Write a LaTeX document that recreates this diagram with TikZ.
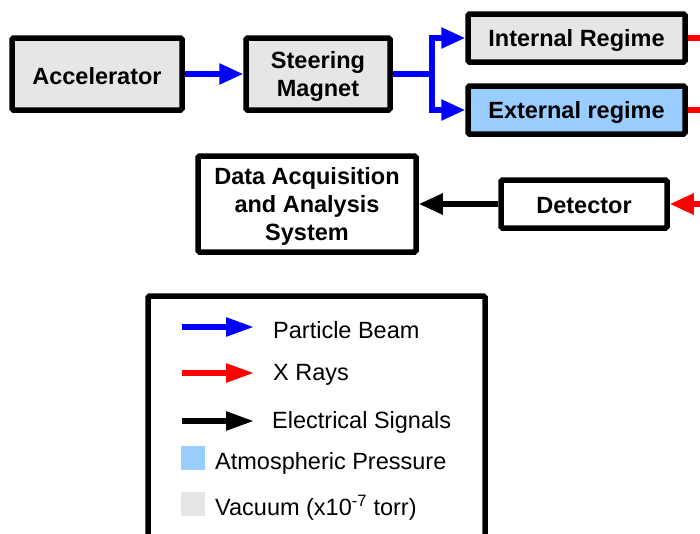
\documentclass[tikz,border=0pt]{standalone}
\usepackage{fontspec}
\setmainfont{Liberation Sans}
\usetikzlibrary{arrows.meta}
\definecolor{vac}{HTML}{E6E6E6}
\definecolor{atm}{HTML}{99CCFF}
\definecolor{beam}{HTML}{0000FF}
\definecolor{xray}{HTML}{FF0000}
\tikzset{
  blk/.style={draw=black, line width=5.5pt, rounded corners=1.5pt, inner sep=0pt, font=\bfseries\fontsize{23.5}{28}\selectfont, align=center},
  vacbox/.style={blk, fill=vac},
  atmbox/.style={blk, fill=atm},
  plainbox/.style={blk, fill=white},
  beamline/.style={draw=beam, line width=5.5pt, -{Triangle[length=24pt,width=20pt]}},
  beamseg/.style={draw=beam, line width=5.5pt, rounded corners=3pt},
  xrayline/.style={draw=xray, line width=5.5pt, -{Triangle[length=24pt,width=20pt]}},
  xrayseg/.style={draw=xray, line width=5.5pt},
  sigline/.style={draw=black, line width=5.5pt, -{Triangle[length=24pt,width=20pt]}},
  legtext/.style={anchor=west, font=\fontsize{23.5}{28}\selectfont, inner sep=0pt},
  legarrow/.style={line width=5.5pt, -{Triangle[length=28pt,width=18pt]}},
  boxtext/.style={font=\bfseries\fontsize{23.5}{28}\selectfont, align=center, inner sep=0pt},
}
\begin{document}
\begin{tikzpicture}[x=1pt,y=-1pt]
\useasboundingbox (0,0) rectangle (700,533);
% main boxes
\node[vacbox, minimum width=170pt, minimum height=72pt] (acc) at (97,74) {};
\node[vacbox, minimum width=144pt, minimum height=72pt] (mag) at (318,74) {};
\node[vacbox, minimum width=217pt, minimum height=48pt] (int) at (576.5,38) {};
\node[atmbox, minimum width=217pt, minimum height=48pt] (ext) at (576.5,110) {};
\node[plainbox, minimum width=218pt, minimum height=96pt] (daq) at (307,204) {};
\node[plainbox, minimum width=166pt, minimum height=48pt] (det) at (584,204) {};
\node[boxtext] (acct) at ([yshift=-2pt]acc.center) {Accelerator};
\node[boxtext] (magt) at ([yshift=-2pt]mag.center) {Steering\\Magnet};
\node[boxtext] (intt) at ([yshift=-2pt]int.center) {Internal Regime};
\node[boxtext] (extt) at ([yshift=-2pt]ext.center) {External regime};
\node[boxtext] (daqt) at ([yshift=-2pt]daq.center) {Data Acquisition\\and Analysis\\System};
\node[boxtext] (dett) at ([yshift=-2pt]det.center) {Detector};
% coordinates
\coordinate (br) at (432,74);
\coordinate (e1) at (702,38);
\coordinate (e2) at (702,110);
\coordinate (e3) at (702,204);
% beam
\draw[beamline] (acc.east) -- (mag.west);
\draw[beamseg] (mag.east) -- (br);
\draw[beamseg] (int.west -| br) -- (ext.west -| br);
\draw[beamline] ([xshift=-2.75pt]int.west -| br) -- (int.west);
\draw[beamline] ([xshift=-2.75pt]ext.west -| br) -- (ext.west);
% x rays
\draw[xrayseg] (int.east) -- (e1);
\draw[xrayseg] (ext.east) -- (e2);
\draw[xrayline] (e3) -- (det.east);
% signals
\draw[sigline] (det.west) -- (daq.east);
% legend
\node[draw=black, line width=5.5pt, rounded corners=1.5pt, minimum width=337pt, minimum height=260pt, inner sep=0pt] (leg) at (316.5,426) {};
\coordinate (l1a) at (182,327); \coordinate (l1b) at (254,327);
\coordinate (l2a) at (182,373); \coordinate (l2b) at (254,373);
\coordinate (l3a) at (182,421); \coordinate (l3b) at (254,421);
\draw[legarrow, draw=beam] (l1a) -- (l1b);
\draw[legarrow, draw=xray] (l2a) -- (l2b);
\draw[legarrow, draw=black] (l3a) -- (l3b);
\node[legtext] (t1) at (273,330) {Particle Beam};
\node[legtext] (t2) at (273,375) {X Rays};
\node[legtext] (t3) at (272,422) {Electrical Signals};
\node[fill=atm, minimum size=24pt, inner sep=0pt] (s1) at (193,458) {};
\node[fill=vac, minimum size=24pt, inner sep=0pt] (s2) at (193,504) {};
\node[legtext] (t4) at (215,463) {Atmospheric Pressure};
\node[legtext] (t5) at (215,508) {Vacuum (x10\textsuperscript{-7} torr)};
\end{tikzpicture}
\end{document}
